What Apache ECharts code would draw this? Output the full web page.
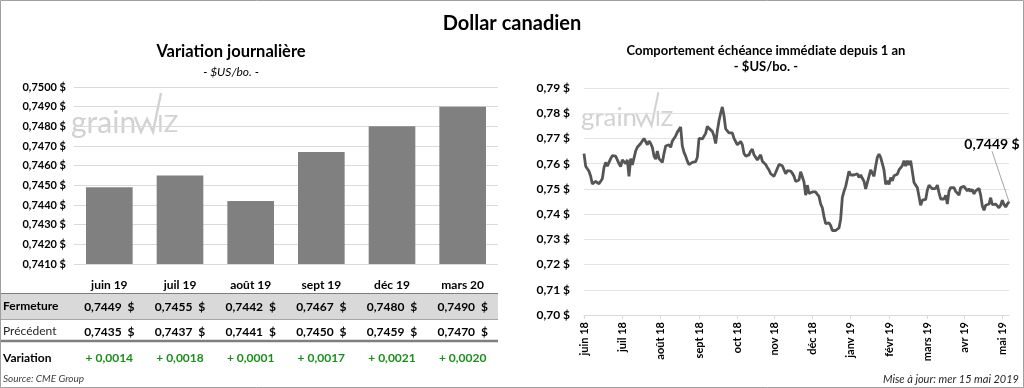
<!DOCTYPE html>
<html>
<head>
<meta charset="utf-8">
<script src="https://cdn.jsdelivr.net/npm/echarts@6/dist/echarts.min.js"></script>
<style>
html,body{margin:0;padding:0;background:#fff;}
#c{width:1024px;height:388px;}
</style>
</head>
<body>
<div id="c"></div>
<script>
// ---- Data ----
const contracts = ['juin 19', 'juil 19', 'août 19', 'sept 19', 'déc 19', 'mars 20'];
const fermeture = [0.7449, 0.7455, 0.7442, 0.7467, 0.7480, 0.7490];
const precedent = [0.7435, 0.7437, 0.7441, 0.7450, 0.7459, 0.7470];
const variation = [0.0014, 0.0018, 0.0001, 0.0017, 0.0021, 0.0020];

const monthLabels = ['juin 18', 'juil 18', 'août 18', 'sept 18', 'oct 18', 'nov 18', 'déc 18',
  'janv 19', 'févr 19', 'mars 19', 'avr 19', 'mai 19'];
const pointsPerMonth = 22.8;

const nearbyPrices = [
  0.7640, 0.7590, 0.7580, 0.7570, 0.7550, 0.7520, 0.7515, 0.7530, 0.7525, 0.7520,
  0.7515, 0.7540, 0.7585, 0.7605, 0.7590, 0.7585, 0.7620, 0.7632, 0.7630, 0.7630,
  0.7625, 0.7600, 0.7588, 0.7615, 0.7620, 0.7600, 0.7615, 0.7550, 0.7620, 0.7595,
  0.7600, 0.7650, 0.7665, 0.7665, 0.7680, 0.7690, 0.7700, 0.7695, 0.7675, 0.7690,
  0.7680, 0.7665, 0.7630, 0.7618, 0.7650, 0.7620, 0.7625, 0.7605, 0.7640, 0.7670,
  0.7670, 0.7675, 0.7665, 0.7690, 0.7695, 0.7710, 0.7725, 0.7735, 0.7745, 0.7670,
  0.7645, 0.7630, 0.7610, 0.7596, 0.7600, 0.7605, 0.7608, 0.7608, 0.7625, 0.7700,
  0.7698, 0.7698, 0.7700, 0.7720, 0.7748, 0.7740, 0.7735, 0.7728, 0.7710, 0.7680,
  0.7730, 0.7770, 0.7800, 0.7825, 0.7790, 0.7738, 0.7730, 0.7722, 0.7725, 0.7722,
  0.7700, 0.7694, 0.7675, 0.7680, 0.7688, 0.7675, 0.7640, 0.7630, 0.7630, 0.7635,
  0.7650, 0.7658, 0.7635, 0.7630, 0.7615, 0.7625, 0.7635, 0.7610, 0.7603, 0.7597,
  0.7585, 0.7575, 0.7560, 0.7563, 0.7550, 0.7565, 0.7565, 0.7597, 0.7595, 0.7592,
  0.7585, 0.7560, 0.7572, 0.7578, 0.7570, 0.7562, 0.7550, 0.7530, 0.7535, 0.7535,
  0.7568, 0.7575, 0.7528, 0.7475, 0.7515, 0.7482, 0.7480, 0.7488, 0.7495, 0.7488,
  0.7478, 0.7470, 0.7440, 0.7425, 0.7390, 0.7362, 0.7360, 0.7365, 0.7355, 0.7335,
  0.7333, 0.7335, 0.7340, 0.7345, 0.7380, 0.7466, 0.7490, 0.7510, 0.7540, 0.7570,
  0.7555, 0.7555, 0.7555, 0.7555, 0.7560, 0.7545, 0.7555, 0.7555, 0.7530, 0.7500,
  0.7495, 0.7550, 0.7575, 0.7570, 0.7550, 0.7590, 0.7625, 0.7638, 0.7625, 0.7600,
  0.7575, 0.7518, 0.7532, 0.7518, 0.7545, 0.7532, 0.7552, 0.7558, 0.7558, 0.7575,
  0.7578, 0.7592, 0.7612, 0.7590, 0.7612, 0.7595, 0.7612, 0.7605, 0.7525, 0.7515,
  0.7505, 0.7470, 0.7435, 0.7455, 0.7456, 0.7458, 0.7495, 0.7515, 0.7510, 0.7500,
  0.7500, 0.7502, 0.7515, 0.7485, 0.7460, 0.7460, 0.7460, 0.7475, 0.7440, 0.7490,
  0.7505, 0.7512, 0.7505, 0.7490, 0.7495, 0.7475, 0.7505, 0.7512, 0.7510, 0.7505,
  0.7492, 0.7500, 0.7490, 0.7498, 0.7480, 0.7492, 0.7498, 0.7502, 0.7475, 0.7432,
  0.7415, 0.7435, 0.7440, 0.7440, 0.7465, 0.7438, 0.7445, 0.7440, 0.7442, 0.7425,
  0.7435, 0.7455, 0.7438, 0.7428, 0.7440, 0.7449
];

// ---- Helpers ----
const FONT = 'Lato, "Open Sans", sans-serif';
const fmt4 = v => v.toFixed(4).replace('.', ',');
const fmt2 = v => v.toFixed(2).replace('.', ',');
const dayCats = nearbyPrices.map((v, i) =>
  monthLabels[Math.min(monthLabels.length - 1, Math.floor(i / pointsPerMonth))] + '#' + i);
const monthStart = (index) => index === 0 ||
  dayCats[index].split('#')[0] !== dayCats[index - 1].split('#')[0];
const lastIdx = nearbyPrices.length - 1;
const lineData = nearbyPrices.map((v, i) => i === lastIdx ? {
  value: v, symbol: 'circle', symbolSize: 1,
  label: { show: true, formatter: fmt4(v) + ' $' }
} : v);

const tableAxis = (data, offset, color) => ({
  gridIndex: 0, type: 'category', data: data, position: 'bottom', offset: offset,
  axisLine: { show: false }, axisTick: { show: false }, splitLine: { show: false },
  axisLabel: { interval: 0, margin: 0, fontFamily: FONT, fontSize: 12, fontWeight: 'bold', color: color }
});

const chart = echarts.init(document.getElementById('c'), null, { renderer: 'canvas' });

const txt = (text, x, y, size, opts) => Object.assign({
  type: 'text', x: x, y: y, silent: true,
  style: Object.assign({ text: text, fontFamily: FONT, fontSize: size, fill: '#000',
    align: 'center', verticalAlign: 'middle' }, (opts && opts.style) || {})
}, (opts && opts.el) || {});

const watermark = (x, y, s) => ({
  type: 'group', x: x, y: y, scaleX: s, scaleY: s, z: -5, silent: true,
  children: [
    { type: 'text', x: 0, y: 0, style: { text: 'grain', fontFamily: FONT, fontSize: 30, fill: '#d2d2d2', align: 'left', verticalAlign: 'middle' } },
    { type: 'polyline', shape: { points: [[64, -6], [70, 9], [76, -4], [82, 9], [90, -30]] },
      style: { stroke: '#d2d2d2', lineWidth: 2.4, fill: null } },
    { type: 'text', x: 86, y: 1, style: { text: 'IZ', fontFamily: FONT, fontSize: 24, fill: '#d2d2d2', align: 'left', verticalAlign: 'middle' } }
  ]
});

chart.setOption({
  animation: false,
  backgroundColor: '#fff',
  grid: [
    { left: 74, right: 526, top: 87, bottom: 124 },
    { left: 584, right: 15, top: 88, bottom: 73 }
  ],
  xAxis: [
    { gridIndex: 0, type: 'category', data: contracts,
      axisLine: { show: false }, axisTick: { show: false },
      axisLabel: { interval: 0, margin: 15, fontFamily: FONT, fontSize: 12, fontWeight: 'bold', color: '#000' } },
    tableAxis(fermeture.map(v => fmt4(v) + '  $'), 37, '#000'),
    tableAxis(precedent.map(v => fmt4(v) + '  $'), 62, '#000'),
    tableAxis(variation.map(v => '+ ' + fmt4(v)), 88, '#1a8f1a'),
    { gridIndex: 1, type: 'category', data: dayCats, boundaryGap: false,
      axisLine: { lineStyle: { color: '#d9d9d9', width: 1 } },
      axisTick: { length: 4, interval: monthStart, lineStyle: { color: '#d9d9d9' } },
      axisLabel: { interval: monthStart, rotate: 90, margin: 7, fontFamily: FONT, fontSize: 11,
        fontWeight: 'bold', color: '#000', formatter: v => v.split('#')[0] } }
  ],
  yAxis: [
    { gridIndex: 0, type: 'value', min: 0.741, max: 0.750, interval: 0.001,
      axisLine: { show: false }, axisTick: { show: false },
      splitLine: { lineStyle: { color: '#d9d9d9' } },
      axisLabel: { margin: 8, fontFamily: FONT, fontSize: 11, fontWeight: 'bold', color: '#000',
        formatter: v => fmt4(v) + ' $' } },
    { gridIndex: 1, type: 'value', min: 0.70, max: 0.79, interval: 0.01,
      axisLine: { show: false }, axisTick: { show: false },
      splitLine: { lineStyle: { color: '#e3e3e3' } },
      axisLabel: { margin: 14, fontFamily: FONT, fontSize: 12, fontWeight: 'bold', color: '#000',
        formatter: v => fmt2(v) + ' $' } }
  ],
  series: [
    { type: 'bar', xAxisIndex: 0, yAxisIndex: 0, data: fermeture, barCategoryGap: '34%',
      itemStyle: { color: '#808080' }, silent: true },
    { type: 'line', xAxisIndex: 4, yAxisIndex: 1, data: lineData, symbol: 'none',
      showAllSymbol: true, silent: true,
      lineStyle: { color: '#555555', width: 2.8 }, itemStyle: { color: '#555555' },
      label: { show: false, position: 'top', fontFamily: FONT, fontSize: 14, fontWeight: 'bold', color: '#000' },
      labelLine: { show: true, lineStyle: { color: '#a6a6a6', width: 1 } },
      labelLayout: { dx: -17, dy: -45 } }
  ],
  graphic: [
    { type: 'rect', z: -10, shape: { x: 0.5, y: 0.5, width: 1023, height: 387 },
      style: { fill: null, stroke: '#a0a0a0', lineWidth: 1 }, silent: true },
    // table band
    { type: 'rect', z: -10, shape: { x: 1, y: 293, width: 497, height: 26 },
      style: { fill: '#d9d9d9' }, silent: true },
    { type: 'line', z: -9, shape: { x1: 1, y1: 293.5, x2: 498, y2: 293.5 },
      style: { stroke: '#7f7f7f', lineWidth: 1 }, silent: true },
    { type: 'line', z: -9, shape: { x1: 1, y1: 319.5, x2: 498, y2: 319.5 },
      style: { stroke: '#a6a6a6', lineWidth: 1 }, silent: true },
    { type: 'line', z: -9, shape: { x1: 1, y1: 341, x2: 498, y2: 341 },
      style: { stroke: '#7f7f7f', lineWidth: 2.6 }, silent: true },
    watermark(71, 123, 1),
    watermark(581, 118, 0.86),
    txt('Dollar canadien', 512, 24, 20, { style: { fontWeight: 'bold' } }),
    txt('Variation journalière', 231, 52, 16.5, { style: { fontWeight: 'bold' } }),
    txt('- $US/bo. -', 231, 72, 12, { style: { fontStyle: 'italic' } }),
    txt('Comportement échéance immédiate depuis 1 an', 766, 51, 13, { style: { fontWeight: 'bold' } }),
    txt('- $US/bo. -', 766, 67, 13, { style: { fontWeight: 'bold' } }),
    txt('Fermeture', 3, 306, 12, { style: { fontWeight: 'bold', align: 'left' } }),
    txt('Précédent', 3, 331, 12, { style: { align: 'left', fill: '#262626' } }),
    txt('Variation', 3, 358, 12, { style: { fontWeight: 'bold', align: 'left' } }),
    txt('Source: CME Group', 3, 379, 10, { style: { fontStyle: 'italic', align: 'left', fill: '#404040' } }),
    txt('Mise à jour: mer 15 mai 2019', 1019, 379, 11, { style: { fontStyle: 'italic', align: 'right', fill: '#262626' } })
  ]
});
</script>
</body>
</html>
